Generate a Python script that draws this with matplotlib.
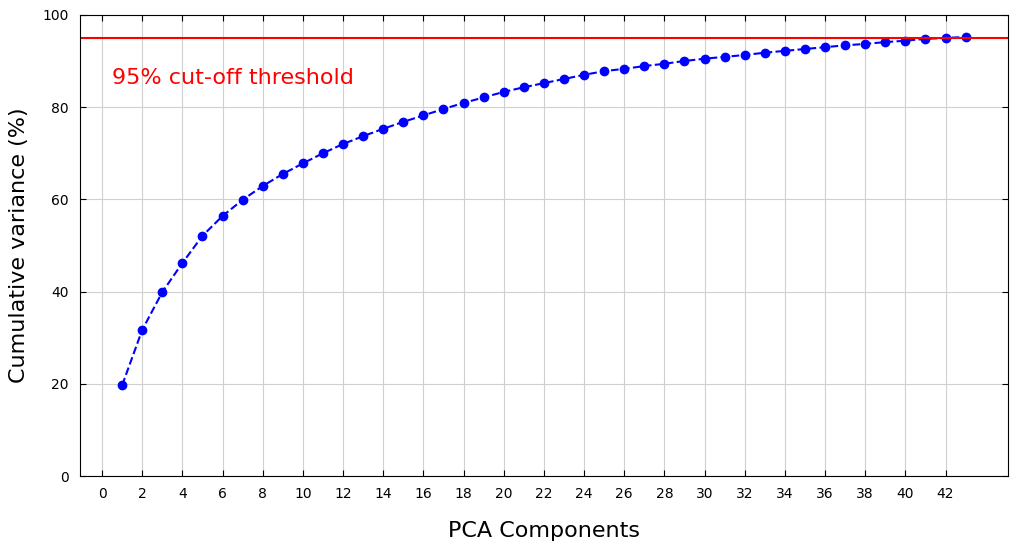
import matplotlib
matplotlib.use("Agg")
import matplotlib.pyplot as plt
import numpy as np

# cumulative explained variance (%) per number of PCA components
components = np.arange(1, 44)
cum_variance = [19.7, 31.7, 39.9, 46.2, 52.1, 56.4, 59.9, 62.9, 65.5, 67.8,
                70.0, 72.0, 73.7, 75.3, 76.8, 78.2, 79.6, 80.9, 82.1, 83.3,
                84.3, 85.2, 86.1, 87.0, 87.8, 88.3, 88.9, 89.4, 90.0, 90.5,
                90.9, 91.3, 91.8, 92.2, 92.6, 93.0, 93.4, 93.7, 94.1, 94.4,
                94.8, 95.0, 95.2]
threshold = 95
xticks = np.arange(0, 43, 2)

fig, ax = plt.subplots(figsize=(10.19, 5.51), dpi=100)
fig.subplots_adjust(left=0.0785, right=0.989, top=0.973, bottom=0.136)

ax.plot(components, cum_variance, marker='o', linestyle='--', color='b', markersize=6)
ax.axhline(y=threshold, color='r', linestyle='-')
ax.text(0.5, 85, '95% cut-off threshold', color='red', fontsize=16)

ax.set_ylim(0, 100)
ax.set_xticks(xticks)
ax.set_xlabel('PCA Components', fontsize=16, labelpad=14)
ax.set_ylabel('Cumulative variance (%)', fontsize=16, labelpad=10)
ax.tick_params(direction='in', top=True, right=True, length=4, labelsize=10, pad=8)
ax.grid(True, color='#d0d0d0', linewidth=0.8)
ax.set_axisbelow(True)

fig.savefig('out.png', dpi=100)
